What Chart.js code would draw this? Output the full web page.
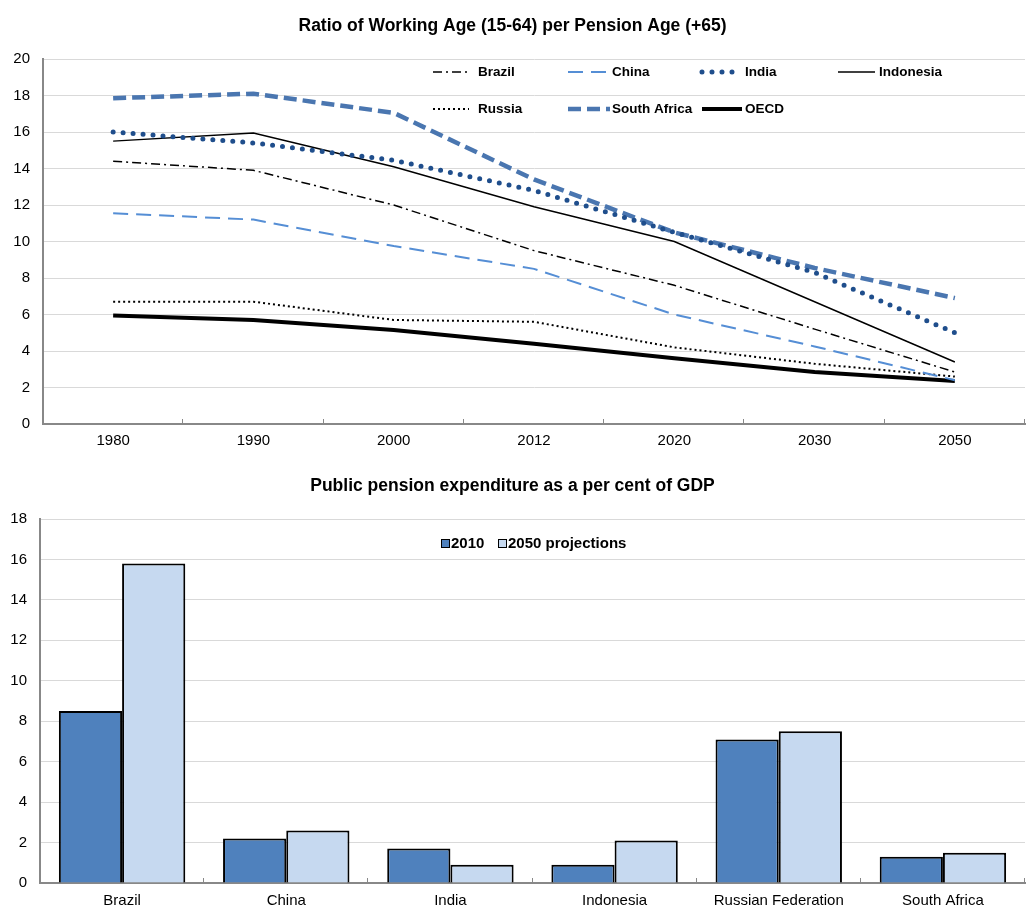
<!DOCTYPE html>
<html>
<head>
<meta charset="utf-8">
<script src="https://cdn.jsdelivr.net/npm/chart.js@4"></script>
<style>
  body { margin: 0; background: #fff; }
  #topBox { position: absolute; left: 0; top: 0; width: 1028px; height: 455px; }
  #bottomBox { position: absolute; left: 0; top: 460px; width: 1028px; height: 449px; }
</style>
</head>
<body>
<div id="topBox"><canvas id="ratioCanvas"></canvas></div>
<div id="bottomBox"><canvas id="pensionCanvas"></canvas></div>
<script>
// Ratio of working age per pension age
const years = ['1980', '1990', '2000', '2012', '2020', '2030', '2050'];
const brazil = [14.4, 13.9, 12.0, 9.5, 7.6, 5.2, 2.85];
const china = [11.55, 11.2, 9.75, 8.5, 6.0, 4.25, 2.4];
const india = [16.0, 15.4, 14.45, 12.8, 10.5, 8.3, 5.0];
const indonesia = [15.5, 15.95, 14.1, 11.9, 10.0, 6.7, 3.4];
const russia = [6.7, 6.7, 5.7, 5.6, 4.2, 3.3, 2.6];
const southAfrica = [17.85, 18.1, 17.05, 13.4, 10.5, 8.55, 6.9];
const oecd = [5.95, 5.7, 5.15, 4.4, 3.6, 2.85, 2.35];
const ratioTicks = [0, 2, 4, 6, 8, 10, 12, 14, 16, 18, 20];

// Public pension expenditure
const countries = ['Brazil', 'China', 'India', 'Indonesia', 'Russian Federation', 'South Africa'];
const pension2010 = [8.5, 2.2, 1.7, 0.9, 7.1, 1.3];
const pension2050 = [15.8, 2.6, 0.9, 2.1, 7.5, 1.5];
const pensionTicks = [0, 2, 4, 6, 8, 10, 12, 14, 16, 18];

const font = "'Liberation Sans', Arial, sans-serif";
Chart.defaults.font.family = font;
Chart.defaults.color = '#000';

const gridColor = '#d9d9d9';
const axisColor = '#888';

function lineSet(label, data, color, width, dash, cap) {
  return {
    label: label,
    data: data,
    borderColor: color,
    backgroundColor: color,
    borderWidth: width,
    borderDash: dash,
    borderCapStyle: cap || 'butt',
    pointRadius: 0,
    tension: 0,
    fill: false
  };
}

const ratioSets = [
  lineSet('Brazil', brazil, '#000', 1.5, [9, 4, 2, 4]),
  lineSet('China', china, '#558ed5', 2, [15, 8]),
  lineSet('India', india, '#1f4e8c', 5, [0, 10], 'round'),
  lineSet('Indonesia', indonesia, '#000', 1.5, []),
  lineSet('Russia', russia, '#000', 2, [2, 3]),
  lineSet('South Africa', southAfrica, '#4a76b0', 4.5, [13, 6]),
  lineSet('OECD', oecd, '#000', 4, [])
];

// legend slots inside the plot: [dataset index, x of sample, y, sample length, text gap]
const ratioLegendSlots = [
  [0, 433, 72, 36, 9], [1, 568, 72, 42, 2], [2, 702, 72, 40, 3], [3, 838, 72, 37, 4],
  [4, 433, 109, 36, 9], [5, 568, 109, 42, 2], [6, 702, 109, 40, 3]
];

const ratioLegend = {
  id: 'ratioLegend',
  afterDraw(chart) {
    const ctx = chart.ctx;
    ctx.save();
    ratioLegendSlots.forEach(slot => {
      const ds = chart.data.datasets[slot[0]];
      ctx.beginPath();
      ctx.strokeStyle = ds.borderColor;
      ctx.lineWidth = ds.borderWidth;
      ctx.lineCap = ds.borderCapStyle;
      ctx.setLineDash(ds.borderDash);
      ctx.moveTo(slot[1], slot[2]);
      ctx.lineTo(slot[1] + slot[3], slot[2]);
      ctx.stroke();
      ctx.setLineDash([]);
      ctx.fillStyle = '#000';
      ctx.font = 'bold 13.5px ' + font;
      ctx.textBaseline = 'middle';
      ctx.textAlign = 'left';
      ctx.fillText(ds.label, slot[1] + slot[3] + slot[4], slot[2]);
    });
    ctx.restore();
  }
};

const pensionLegend = {
  id: 'pensionLegend',
  afterDraw(chart) {
    const ctx = chart.ctx;
    const y = 83;
    const items = [[441, 0], [498, 1]];
    ctx.save();
    ctx.font = 'bold 15px ' + font;
    ctx.textBaseline = 'middle';
    items.forEach(item => {
      const ds = chart.data.datasets[item[1]];
      ctx.fillStyle = ds.backgroundColor;
      ctx.fillRect(item[0], y - 4, 9, 9);
      ctx.strokeStyle = '#000';
      ctx.lineWidth = 1;
      ctx.strokeRect(item[0] + 0.5, y - 3.5, 8, 8);
      ctx.fillStyle = '#000';
      ctx.fillText(ds.label, item[0] + 10, y + 1);
    });
    ctx.restore();
  }
};

// small tick marks at category boundaries, pointing up from the x axis
const innerTicks = {
  id: 'innerTicks',
  afterDatasetsDraw(chart) {
    const x = chart.scales.x;
    const n = chart.data.labels.length;
    const ctx = chart.ctx;
    ctx.save();
    ctx.strokeStyle = axisColor;
    ctx.lineWidth = 1;
    for (let i = 1; i <= n; i++) {
      const px = Math.round(x.left + i * (x.right - x.left) / n) - 0.5;
      ctx.beginPath();
      ctx.moveTo(px, x.top);
      ctx.lineTo(px, x.top - 5);
      ctx.stroke();
    }
    ctx.restore();
  }
};

function yAxis(max, ticks, width) {
  return {
    min: 0,
    max: max,
    afterBuildTicks: s => { s.ticks = ticks.map(v => ({ value: v })); },
    afterFit: s => { s.width = width; },
    grid: { color: gridColor, lineWidth: 1, drawTicks: false },
    border: { color: axisColor, width: 2 },
    ticks: { font: { size: 15 }, padding: 13, color: '#000' }
  };
}

function xAxis(height, pad) {
  return {
    offset: true,
    afterFit: s => { s.height = height; },
    grid: { display: false },
    border: { color: axisColor, width: 2 },
    ticks: { font: { size: 15 }, padding: pad, color: '#000', maxRotation: 0 }
  };
}

function titleOpts(text) {
  return {
    display: true,
    text: text,
    font: { size: 17.5, weight: 'bold' },
    color: '#000',
    padding: { top: 16, bottom: 22 }
  };
}

new Chart(document.getElementById('ratioCanvas'), {
  type: 'line',
  data: { labels: years, datasets: ratioSets },
  options: {
    responsive: true,
    maintainAspectRatio: false,
    animation: false,
    layout: { padding: { left: 0, right: 3, top: 0, bottom: 0 } },
    plugins: {
      legend: { display: false },
      tooltip: { enabled: false },
      title: titleOpts('Ratio of Working Age (15-64) per Pension Age (+65)')
    },
    scales: {
      x: xAxis(31, 0),
      y: yAxis(20, ratioTicks, 43)
    }
  },
  plugins: [ratioLegend, innerTicks]
});

new Chart(document.getElementById('pensionCanvas'), {
  type: 'bar',
  data: {
    labels: countries,
    datasets: [
      { label: '2010', data: pension2010, backgroundColor: '#4f81bd', borderColor: '#000', borderWidth: 2, borderSkipped: 'bottom' },
      { label: '2050 projections', data: pension2050, backgroundColor: '#c6d9f0', borderColor: '#000', borderWidth: 2, borderSkipped: 'bottom' }
    ]
  },
  options: {
    responsive: true,
    maintainAspectRatio: false,
    animation: false,
    categoryPercentage: 0.77,
    barPercentage: 1,
    layout: { padding: { left: 0, right: 3, top: 0, bottom: 0 } },
    plugins: {
      legend: { display: false },
      tooltip: { enabled: false },
      title: titleOpts('Public pension expenditure as a per cent of GDP')
    },
    scales: {
      x: xAxis(26, 1),
      y: yAxis(18, pensionTicks, 40)
    }
  },
  plugins: [pensionLegend, innerTicks]
});
</script>
</body>
</html>
